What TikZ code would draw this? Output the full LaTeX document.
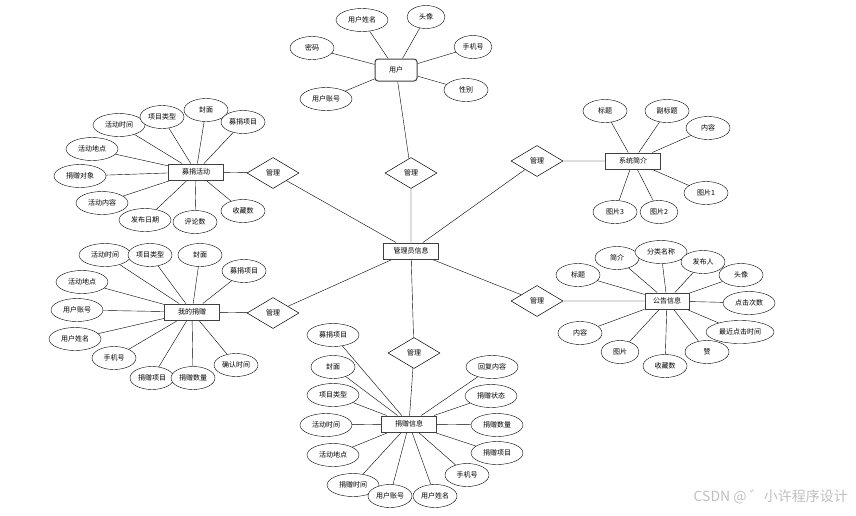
\documentclass[tikz,border=0pt]{standalone}
\usepackage{fontspec}
\setmainfont{Noto Sans CJK SC}
\usepackage{tikz}
\usetikzlibrary{shapes.geometric}

\pgfdeclarelayer{background}
\pgfsetlayers{background,main}

\tikzset{
  entity/.style={draw=black!75,line width=1pt,fill=white,minimum width=55pt,minimum height=16pt,inner sep=1pt},
  attr/.style={draw,ellipse,fill=white,minimum width=44pt,minimum height=23pt,inner sep=0pt},
  attrs/.style={attr,minimum width=38pt},
  attrl/.style={attr,minimum width=52pt},
  attrxl/.style={attr,minimum width=68pt},
  rel/.style={draw,diamond,fill=white,minimum width=52pt,minimum height=31pt,inner sep=0pt},
}

\begin{document}
\begin{tikzpicture}[x=1pt,y=-1pt,line width=0.5pt,font=\fontsize{7}{8}\selectfont]
  \useasboundingbox (0,0) rectangle (856,515);

  % entities and relations
  \node[entity] (admin) at (411,251) {管理员信息};
  \node[entity,rounded corners=3pt,minimum width=42pt,minimum height=22pt] (user) at (396,70) {用户};
  \node[entity] (act) at (196,172) {募捐活动};
  \node[entity] (mine) at (192,312) {我的捐赠};
  \node[entity] (don) at (409,424) {捐赠信息};
  \node[entity,minimum width=44pt] (notice) at (667,301) {公告信息};
  \node[entity] (intro) at (633,161) {系统简介};

  \node[rel] (r1) at (411,173) {管理};
  \node[rel] (r2) at (273,173) {管理};
  \node[rel] (r3) at (273,313) {管理};
  \node[rel] (r4) at (414,353) {管理};
  \node[rel] (r5) at (537,301) {管理};
  \node[rel] (r6) at (537,161) {管理};

  \begin{pgfonlayer}{background}
    \draw (user) -- (r1) -- (admin);
    \draw (act) -- (r2) -- (admin);
    \draw (mine) -- (r3) -- (admin);
    \draw (don) -- (r4) -- (admin);
    \draw (notice) -- (r5) -- (admin);
    \draw (intro) -- (r6) -- (admin);
  \end{pgfonlayer}

  % user
  \foreach \n/\s/\x/\y/\t in {u1/attrl/362/20/用户姓名, u2/attrs/426/17/头像,
      u3/attr/312/48/密码, u4/attrs/473/47/手机号, u5/attr/466/90/性别,
      u6/attrl/326/99/用户账号}{
    \node[\s] (\n) at (\x,\y) {\t};
    \begin{pgfonlayer}{background}\draw (\n) -- (user);\end{pgfonlayer}
  }

  % fundraising activity
  \foreach \n/\s/\x/\y/\t in {a1/attrl/119/125/活动时间, a2/attr/162/117/项目类型,
      a3/attr/206/110/封面, a4/attr/243/122/募捐项目, a5/attrl/92/149/活动地点,
      a6/attrl/80/176/捐赠对象, a7/attrl/102/203/活动内容, a8/attrl/145/220/发布日期,
      a9/attr/195/222/评论数, a10/attr/243/211/收藏数}{
    \node[\s] (\n) at (\x,\y) {\t};
    \begin{pgfonlayer}{background}\draw (\n) -- (act);\end{pgfonlayer}
  }

  % my donations
  \foreach \n/\s/\x/\y/\t in {m1/attrl/105/255/活动时间, m2/attr/150/255/项目类型,
      m3/attr/200/255/封面, m4/attr/244/271/募捐项目, m5/attrl/82/282/活动地点,
      m6/attrl/77/310/用户账号, m7/attrl/75/339/用户姓名, m8/attr/114/358/手机号,
      m9/attr/152/378/捐赠项目, m10/attr/193/378/捐赠数量, m11/attr/236/365/确认时间}{
    \node[\s] (\n) at (\x,\y) {\t};
    \begin{pgfonlayer}{background}\draw (\n) -- (mine);\end{pgfonlayer}
  }

  % donation info
  \foreach \n/\s/\x/\y/\t in {n1/attrl/333/335/募捐项目, n2/attr/333/367/封面,
      n3/attrl/333/395/项目类型, n4/attrl/326/425/活动时间, n5/attrl/333/455/活动地点,
      n6/attrl/353/485/捐赠时间, n7/attr/390/496/用户账号, n8/attr/435/496/用户姓名,
      n9/attr/467/475/手机号, n10/attrl/492/367/回复内容, n11/attrl/491/396/捐赠状态,
      n12/attrl/497/425/捐赠数量, n13/attrl/497/453/捐赠项目}{
    \node[\s] (\n) at (\x,\y) {\t};
    \begin{pgfonlayer}{background}\draw (\n) -- (don);\end{pgfonlayer}
  }

  % notices
  \foreach \n/\s/\x/\y/\t in {p1/attr/578/275/标题, p2/attr/617/258/简介,
      p3/attrl/661/252/分类名称, p4/attr/703/262/发布人, p5/attr/741/275/头像,
      p6/attrl/749/303/点击次数, p7/attrxl/740/332/最近点击时间, p8/attr/707/352/赞,
      p9/attr/665/366/收藏数, p10/attrs/620/352/图片, p11/attr/580/333/内容}{
    \node[\s] (\n) at (\x,\y) {\t};
    \begin{pgfonlayer}{background}\draw (\n) -- (notice);\end{pgfonlayer}
  }

  % system intro
  \foreach \n/\s/\x/\y/\t in {s1/attr/605/111/标题, s2/attr/667/111/副标题,
      s3/attr/708/128/内容, s4/attr/706/193/图片1, s5/attrs/659/212/图片2,
      s6/attr/615/212/图片3}{
    \node[\s] (\n) at (\x,\y) {\t};
    \begin{pgfonlayer}{background}\draw (\n) -- (intro);\end{pgfonlayer}
  }

  \node[text=black!25,font=\fontsize{14}{16}\selectfont,anchor=east,inner sep=0pt] (mark) at (848,497) {CSDN @ ゛小许程序设计};
\end{tikzpicture}
\end{document}
